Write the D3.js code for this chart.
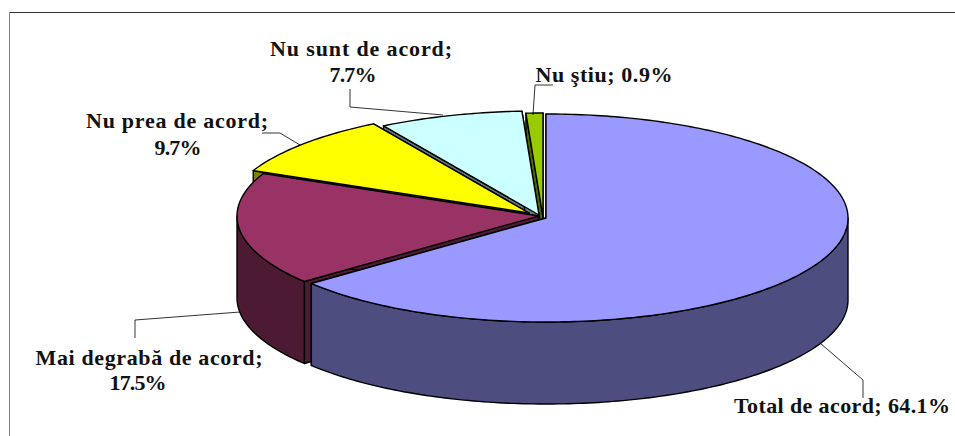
<!DOCTYPE html>
<html>
<head>
<meta charset="utf-8">
<script src="https://cdn.jsdelivr.net/npm/d3@7"></script>
<style>
  html, body { margin: 0; padding: 0; background: #fff; }
  svg { display: block; }
  text { font-family: "Liberation Serif", serif; font-weight: bold; font-size: 22px; fill: #111; }
</style>
</head>
<body>
<div id="container"></div>
<script>
'use strict';

const categories = ['Total de acord', 'Mai degrabă de acord', 'Nu prea de acord', 'Nu sunt de acord', 'Nu ştiu'];
const values = [64.1, 17.5, 9.7, 7.7, 0.9];
const topColors = ['#9999ff', '#993366', '#ffff00', '#ccffff', '#99cc00'];
const sideColors = ['#4d4d80', '#4d1a33', '#808000', '#668080', '#4d6600'];

const w = 955;
const h = 436;
const rx = 302;
const ry = 104;
const depth = 82;
const cx = 546;
const cy = 218;

// how far each slice was pulled out of the pie.
const explode = [[0, 0], [-7, -2], [-17, -5], [-7, -3], [-3, -1]];

// label lines, one row per line of text: [text, x, baseline, width].
const labelLines = [
    ['Total de acord; 64.1%', 842, 413, 216],
    ['Mai degrabă de acord;', 149, 365, 227],
    ['17.5%', 138, 390, 57],
    ['Nu prea de acord;', 177, 128, 182],
    ['9.7%', 178, 155, 47],
    ['Nu sunt de acord;', 361, 56, 182],
    ['7.7%', 353, 82, 47],
    ['Nu ştiu; 0.9%', 604, 82, 137]
];
const leaders = [
    [[820, 343], [863, 380], [863, 398]],
    [[240, 312], [135, 320], [135, 338]],
    [[300, 145], [280, 133], [262, 133]],
    [[443, 115], [350, 107], [350, 89]],
    [[533, 115], [535, 85], [553, 85]]
];

const svg = d3.select('#container')
    .append('svg')
    .attr('width', w)
    .attr('height', h)
    .attr('viewBox', '0 0 ' + w + ' ' + h);

// Chart frame, the crop leaves only its top and left sides.
svg.append('line')
    .attr('x1', 9).attr('x2', w)
    .attr('y1', 12.5).attr('y2', 12.5)
    .attr('stroke', '#333');
svg.append('line')
    .attr('x1', 9.5).attr('x2', 9.5)
    .attr('y1', 12).attr('y2', h)
    .attr('stroke', '#808080');

const pie = d3.pie().sort(null)(values);

// Clockwise from twelve o'clock, squashed into the tilted ellipse.
const px = (a, i) => cx + explode[i][0] + rx * Math.sin(a);
const py = (a, i) => cy + explode[i][1] - ry * Math.cos(a);

function arcPoints(a0, a1, i, dy) {
    const n = Math.max(2, Math.ceil((a1 - a0) * 60));
    return d3.range(n + 1).map(k => {
        const a = a0 + (a1 - a0) * k / n;
        return [px(a, i), py(a, i) + dy];
    });
}

const line = d3.line();

// Only the part of the rim that faces the viewer has a wall.
function rimPath(a0, a1, i) {
    const lo = Math.max(a0, Math.PI / 2);
    const hi = Math.min(a1, Math.PI * 1.5);
    if (lo >= hi) return null;
    const top = arcPoints(lo, hi, i, 0);
    const bottom = arcPoints(lo, hi, i, depth).reverse();
    return line(top.concat(bottom)) + 'Z';
}

function cutPath(a, i) {
    const ax = cx + explode[i][0];
    const ay = cy + explode[i][1];
    return line([[ax, ay], [px(a, i), py(a, i)], [px(a, i), py(a, i) + depth], [ax, ay + depth]]) + 'Z';
}

function topPath(a0, a1, i) {
    const center = [cx + explode[i][0], cy + explode[i][1]];
    return line([center].concat(arcPoints(a0, a1, i, 0))) + 'Z';
}

// Painted back to front.
const slices = svg.append('g').attr('stroke', '#000').attr('stroke-width', 1.4).attr('stroke-linejoin', 'round');
[4, 3, 2, 1, 0].forEach(i => {
    const d = pie[i];
    const g = slices.append('g').attr('class', 'slice').attr('data-name', categories[i]);
    g.append('path').attr('d', cutPath(d.startAngle, i)).attr('fill', sideColors[i]);
    g.append('path').attr('d', cutPath(d.endAngle, i)).attr('fill', sideColors[i]);
    const rim = rimPath(d.startAngle, d.endAngle, i);
    if (rim) g.append('path').attr('d', rim).attr('fill', sideColors[i]);
    g.append('path').attr('d', topPath(d.startAngle, d.endAngle, i)).attr('fill', topColors[i]);
});

// Leader lines and labels.
svg.append('g')
    .selectAll('path')
    .data(leaders)
    .enter()
    .append('path')
    .attr('d', d => line(d))
    .attr('fill', 'none')
    .attr('stroke', '#000')
    .attr('stroke-width', 0.8);

svg.append('g')
    .selectAll('text')
    .data(labelLines)
    .enter()
    .append('text')
    .attr('text-anchor', 'middle')
    .attr('x', d => d[1])
    .attr('y', d => d[2])
    .attr('textLength', d => d[3])
    .attr('lengthAdjust', 'spacing')
    .text(d => d[0]);
</script>
</body>
</html>
